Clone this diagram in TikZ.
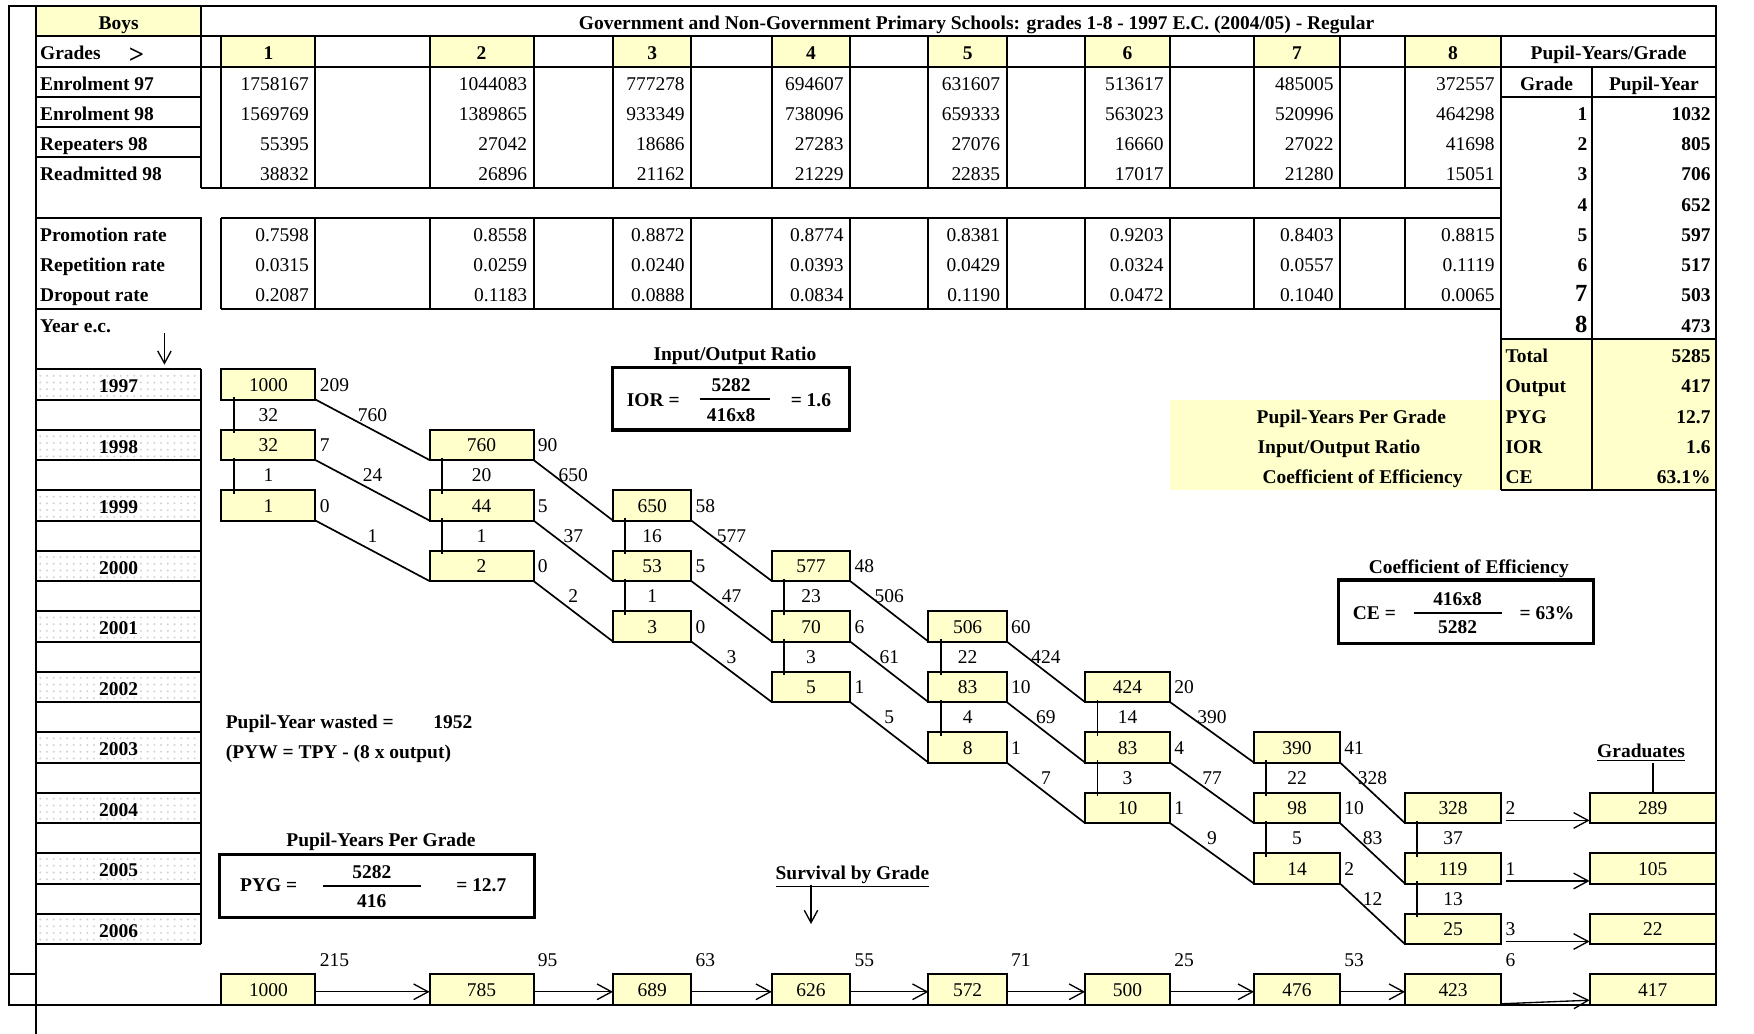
\documentclass[tikz,border=0pt]{standalone}
\usepackage{fontspec}
\setmainfont{Liberation Serif}
\usetikzlibrary{calc,patterns,arrows.meta}

\definecolor{cellyellow}{RGB}{255,255,204}

% edges of the grade columns (9 = graduates)
\def\colL{{198,384,548,690,830,970,1121,1256,1421}}
\def\colR{{282,477,618,760,900,1046,1198,1342,1534}}
\newcommand{\rowt}[1]{{5.5+27.05*(#1)}}
\newcommand{\rowc}[1]{{20.5+27.05*(#1)}}

\newcommand{\plainBox}[4]{%
  \pgfmathtruncatemacro\bxi{#2-1}%
  \pgfmathsetmacro\bxl{\colL[\bxi]}%
  \pgfmathsetmacro\bxr{\colR[\bxi]}%
  \pgfmathsetmacro\bxw{(\bxr-\bxl)*0.5}%
  \node[flowbox, minimum width=\bxw pt, anchor=north west] (#1) at (\bxl,\rowt{#3}) {#4};%
}
\newcommand{\flowBox}[5]{%
  \plainBox{#1}{#2}{#3}{#4}%
  \node[sidelab] (#1-d) at ([xshift=1.5pt]#1.east) {#5};%
}
\newcommand{\survBox}[4]{%
  \plainBox{#1}{#2}{32}{#3}%
  \node[sidelab] (#1-l) at ([xshift=1.5pt,yshift=13.5pt]#1.east) {#4};%
}
\newcommand{\repLink}[3]{%
  \draw[flowline] ([xshift=5.5pt,yshift=1pt]#1.south west) -- ([xshift=5.5pt,yshift=-1.5pt]#2.north west);%
  \node[linklab] (#1-r) at ($(#1.south)!0.5!(#2.north)$) {#3};%
}
\newcommand{\promLink}[3]{%
  \draw[flowline] (#1.south east) -- (#2.south west);%
  \node[linklab] (#1-p) at ($(#1.south east)!0.5!(#2.north west)$) {#3};%
}
\newcommand{\dataRow}[3]{%
  \foreach \v [count=\g from 0] in {#3} {%
    \pgfmathsetmacro\xr{\colR[\g]}%
    \node[num] (#1\g) at (\xr-5,\rowc{#2}) {\v};%
  }%
}

\begin{document}
\fontsize{8.7}{10.4}\selectfont
\begin{tikzpicture}[x=0.5pt, y=-0.5pt, line width=0.9pt,
  txt/.style={inner sep=0pt, text height=6pt, text depth=0pt},
  hdr/.style={txt, font=\bfseries},
  lab/.style={hdr, anchor=west},
  num/.style={txt, anchor=east},
  bnum/.style={num, font=\bfseries},
  flowbox/.style={draw, fill=cellyellow, line width=0.9pt, inner sep=0pt,
    outer sep=0pt, minimum height=13.525pt, text height=6pt, text depth=0pt},
  sidelab/.style={txt, anchor=west},
  linklab/.style={txt},
  flowline/.style={line width=0.75pt},
  flowarrow/.style={line width=0.6pt, -{Straight Barb[length=6.5pt,width=7pt]}},
  downarrow/.style={line width=0.6pt, -{Straight Barb[length=5.5pt,width=6pt]}},
  ratiobox/.style={draw, line width=1.4pt, inner sep=0pt, outer sep=0pt},
  fracbar/.style={line width=0.8pt},
  yearcell/.style={pattern=dots, pattern color=gray!35}
]
  \useasboundingbox (0,0) rectangle (1568,924);

  % Fills
  \fill[cellyellow] (32,\rowt{0}) rectangle (180,\rowt{1});
  \fill[cellyellow] (1342,\rowt{11}) rectangle (1534,\rowt{16});
  \fill[cellyellow] (1046,\rowt{13}) rectangle (1342,\rowt{16});
  \foreach \g in {0,...,7} {
    \pgfmathsetmacro\xl{\colL[\g]}
    \pgfmathsetmacro\xr{\colR[\g]}
    \pgfmathtruncatemacro\gn{\g+1}
    \fill[cellyellow] (\xl,\rowt{1}) rectangle (\xr,\rowt{2});
    \node[hdr] (gh\gn) at ({(\xl+\xr)/2},\rowc{1}) {\gn};
  }
  \foreach \k in {0,...,9}
    \fill[yearcell] (32,\rowt{12+2*\k}) rectangle (180,\rowt{13+2*\k});

  % Frame
  \draw (8,\rowt{0}) -- (1534,\rowt{0}) -- (1534,\rowt{33}) -- (8,\rowt{33}) -- cycle;
  \draw (32,\rowt{0}) -- (32,924);
  \draw (8,\rowt{32}) -- (32,\rowt{32});

  % Top table lines
  \draw (180,\rowt{0}) -- (180,\rowt{6});
  \draw (32,\rowt{1}) -- (1534,\rowt{1});
  \draw (32,\rowt{2}) -- (1534,\rowt{2});
  \foreach \i in {3,4,5} \draw (32,\rowt{\i}) -- (180,\rowt{\i});
  \draw (180,\rowt{6}) -- (1342,\rowt{6});
  \draw (32,\rowt{7}) rectangle (180,\rowt{10});
  \draw (198,\rowt{7}) -- (1342,\rowt{7});
  \draw (198,\rowt{10}) -- (1342,\rowt{10});
  \foreach \x in {198,282,384,477,548,618,690,760,830,900,970,1046,1121,1198,1256} {
    \draw (\x,\rowt{1}) -- (\x,\rowt{6});
    \draw (\x,\rowt{7}) -- (\x,\rowt{10});
  }
  \draw (1342,\rowt{1}) -- (1342,\rowt{16});
  \draw (1423,\rowt{2}) -- (1423,\rowt{16});
  \foreach \i in {3,11,16} \draw (1342,\rowt{\i}) -- (1534,\rowt{\i});

  % Year column lines
  \foreach \i in {12,...,31} \draw (32,\rowt{\i}) -- (180,\rowt{\i});
  \draw (180,\rowt{12}) -- (180,\rowt{31});

  % Headers and row labels
  \node[hdr] (boys) at (106,\rowc{0}) {Boys};
  \node[hdr] (title) at (873,\rowc{0}) {Government and Non-Government Primary Schools: grades 1-8 - 1997 E.C. (2004/05) - Regular};
  \node[lab] (grades) at (35,\rowc{1}) {Grades};
  \node[hdr, font=\bfseries\fontsize{12}{12}\selectfont] (gradesdir) at (122,51) {>};
  \node[hdr] (pyghead) at (1438,\rowc{1}) {Pupil-Years/Grade};
  \node[hdr] (gradehead) at (1382.5,\rowc{2}) {Grade};
  \node[hdr] (pyhead) at (1478.5,\rowc{2}) {Pupil-Year};
  \node[lab] (enr97) at (35,\rowc{2}) {Enrolment 97};
  \node[lab] (enr98) at (35,\rowc{3}) {Enrolment 98};
  \node[lab] (rep98) at (35,\rowc{4}) {Repeaters 98};
  \node[lab] (rea98) at (35,\rowc{5}) {Readmitted 98};
  \node[lab] (promrate) at (35,\rowc{7}) {Promotion rate};
  \node[lab] (reprate) at (35,\rowc{8}) {Repetition rate};
  \node[lab] (droprate) at (35,\rowc{9}) {Dropout rate};
  \node[lab] (yearlab) at (35,\rowc{10}) {Year e.c.};

  % Data rows
  \dataRow{e97-}{2}{1758167,1044083,777278,694607,631607,513617,485005,372557}
  \dataRow{e98-}{3}{1569769,1389865,933349,738096,659333,563023,520996,464298}
  \dataRow{r98-}{4}{55395,27042,18686,27283,27076,16660,27022,41698}
  \dataRow{a98-}{5}{38832,26896,21162,21229,22835,17017,21280,15051}
  \dataRow{pr-}{7}{0.7598,0.8558,0.8872,0.8774,0.8381,0.9203,0.8403,0.8815}
  \dataRow{rr-}{8}{0.0315,0.0259,0.0240,0.0393,0.0429,0.0324,0.0557,0.1119}
  \dataRow{dr-}{9}{0.2087,0.1183,0.0888,0.0834,0.1190,0.0472,0.1040,0.0065}

  % Pupil-years per grade
  \foreach \v [count=\g] in {1032,805,706,652,597,517,503,473} {
    \ifnum\g>6 \def\gf{\fontsize{11}{12}\selectfont}\else\def\gf{}\fi
    \node[bnum] (pyg\g) at (1420,\rowc{\g+2}) {\gf\g};
    \node[bnum] (pyv\g) at (1530,\rowc{\g+2}) {\v};
  }
  \foreach \t/\v [count=\i from 11] in {Total/5285,Output/417,PYG/12.7,IOR/1.6,CE/63.1\%} {
    \node[lab] (sum\i) at (1345,\rowc{\i}) {\t};
    \node[bnum] (sumv\i) at (1530,\rowc{\i}) {\v};
  }
  \node[hdr] (pygname) at (1208,\rowc{13}) {Pupil-Years Per Grade};
  \node[hdr] (iorname) at (1197,\rowc{14}) {Input/Output Ratio};
  \node[hdr] (cename) at (1218,\rowc{15}) {Coefficient of Efficiency};

  % Years
  \foreach \yr [count=\k from 0] in {1997,...,2006}
    \node[hdr] (yr\yr) at (106,\rowc{12+2*\k}) {\yr};
  \coordinate (yeartip) at (147,326);
  \draw[downarrow] (yearlab.south -| yeartip) -- (yeartip);

  % Flow of the cohort
  \flowBox{b1-97}{1}{12}{1000}{209}
  \flowBox{b1-98}{1}{14}{32}{7}
  \flowBox{b2-98}{2}{14}{760}{90}
  \flowBox{b1-99}{1}{16}{1}{0}
  \flowBox{b2-99}{2}{16}{44}{5}
  \flowBox{b3-99}{3}{16}{650}{58}
  \flowBox{b2-00}{2}{18}{2}{0}
  \flowBox{b3-00}{3}{18}{53}{5}
  \flowBox{b4-00}{4}{18}{577}{48}
  \flowBox{b3-01}{3}{20}{3}{0}
  \flowBox{b4-01}{4}{20}{70}{6}
  \flowBox{b5-01}{5}{20}{506}{60}
  \flowBox{b4-02}{4}{22}{5}{1}
  \flowBox{b5-02}{5}{22}{83}{10}
  \flowBox{b6-02}{6}{22}{424}{20}
  \flowBox{b5-03}{5}{24}{8}{1}
  \flowBox{b6-03}{6}{24}{83}{4}
  \flowBox{b7-03}{7}{24}{390}{41}
  \flowBox{b6-04}{6}{26}{10}{1}
  \flowBox{b7-04}{7}{26}{98}{10}
  \flowBox{b8-04}{8}{26}{328}{2}
  \flowBox{b7-05}{7}{28}{14}{2}
  \flowBox{b8-05}{8}{28}{119}{1}
  \flowBox{b8-06}{8}{30}{25}{3}
  \plainBox{gr-04}{9}{26}{289}
  \plainBox{gr-05}{9}{28}{105}
  \plainBox{gr-06}{9}{30}{22}

  % Repeaters
  \repLink{b1-97}{b1-98}{32}
  \repLink{b1-98}{b1-99}{1}
  \repLink{b2-98}{b2-99}{20}
  \repLink{b2-99}{b2-00}{1}
  \repLink{b3-99}{b3-00}{16}
  \repLink{b3-00}{b3-01}{1}
  \repLink{b4-00}{b4-01}{23}
  \repLink{b4-01}{b4-02}{3}
  \repLink{b5-01}{b5-02}{22}
  \repLink{b5-02}{b5-03}{4}
  \repLink{b6-02}{b6-03}{14}
  \repLink{b6-03}{b6-04}{3}
  \repLink{b7-03}{b7-04}{22}
  \repLink{b7-04}{b7-05}{5}
  \repLink{b8-04}{b8-05}{37}
  \repLink{b8-05}{b8-06}{13}

  % Promotees
  \promLink{b1-97}{b2-98}{760}
  \promLink{b1-98}{b2-99}{24}
  \promLink{b1-99}{b2-00}{1}
  \promLink{b2-98}{b3-99}{650}
  \promLink{b2-99}{b3-00}{37}
  \promLink{b2-00}{b3-01}{2}
  \promLink{b3-99}{b4-00}{577}
  \promLink{b3-00}{b4-01}{47}
  \promLink{b3-01}{b4-02}{3}
  \promLink{b4-00}{b5-01}{506}
  \promLink{b4-01}{b5-02}{61}
  \promLink{b4-02}{b5-03}{5}
  \promLink{b5-01}{b6-02}{424}
  \promLink{b5-02}{b6-03}{69}
  \promLink{b5-03}{b6-04}{7}
  \promLink{b6-02}{b7-03}{390}
  \promLink{b6-03}{b7-04}{77}
  \promLink{b6-04}{b7-05}{9}
  \promLink{b7-03}{b8-04}{328}
  \promLink{b7-04}{b8-05}{83}
  \promLink{b7-05}{b8-06}{12}

  % Graduates
  \foreach \yy in {04,05,06}
    \draw[flowarrow] ([xshift=2pt,yshift=1.2pt]b8-\yy.south east) -- ([yshift=1.2pt]gr-\yy.south west);
  \node[hdr] (gradlab) at (1467,671) {\underline{Graduates}};
  \draw[flowline] ([yshift=-2pt]gradlab.south -| gr-04.north) -- (gr-04.north);

  % Survival by grade
  \survBox{s1}{1}{1000}{215}
  \survBox{s2}{2}{785}{95}
  \survBox{s3}{3}{689}{63}
  \survBox{s4}{4}{626}{55}
  \survBox{s5}{5}{572}{71}
  \survBox{s6}{6}{500}{25}
  \survBox{s7}{7}{476}{53}
  \survBox{s8}{8}{423}{6}
  \plainBox{s9}{9}{32}{417}
  \foreach \a/\b in {s1/s2,s2/s3,s3/s4,s4/s5,s5/s6,s6/s7,s7/s8}
    \draw[flowarrow] ([yshift=-1pt]\a.east) -- ([yshift=-1pt]\b.west);
  \draw[flowarrow] ([yshift=0.4pt]s8.south east) -- ([yshift=2pt]s9.south west);
  \node[hdr] (survlab) at (762,780) {\underline{Survival by Grade}};
  \coordinate (survtip) at (725,826);
  \draw[downarrow] ([yshift=-2pt]survlab.south -| survtip) -- (survtip);

  % Input/Output Ratio
  \node[hdr] (iortitle) at (657,316) {Input/Output Ratio};
  \node[ratiobox, minimum width=106pt, minimum height=27.85pt] (iorbox) at (653.6,356.5) {};
  \node[lab] (iorlhs) at (559.5,357.6) {IOR =};
  \node[hdr] (iornum) at (653.6,344.2) {5282};
  \draw[fracbar] (625.5,357) -- (688.5,357);
  \node[hdr] (iorden) at (653.6,370.5) {416x8};
  \node[lab] (iorres) at (706,357.6) {= 1.6};

  % Coefficient of Efficiency
  \node[hdr] (cetitle) at (1313,506.6) {Coefficient of Efficiency};
  \node[ratiobox, minimum width=113.9pt, minimum height=28.25pt] (cebox) at (1310.7,546.75) {};
  \node[lab] (celhs) at (1208.5,547.7) {CE =};
  \node[hdr] (cenum) at (1303,535) {416x8};
  \draw[fracbar] (1263.8,547.7) -- (1342.5,547.7);
  \node[hdr] (ceden) at (1303,560.3) {5282};
  \node[lab] (ceres) at (1357.5,547.7) {= 63\%};

  % Pupil-years wasted
  \node[lab] (pywlab) at (201,645) {Pupil-Year wasted =};
  \node[lab] (pywval) at (386.5,645) {1952};
  \node[lab] (pywdef) at (201,672) {(PYW = TPY - (8 x output)};

  % Pupil-Years Per Grade
  \node[hdr] (pygtitle) at (340.6,751) {Pupil-Years Per Grade};
  \node[ratiobox, minimum width=140.7pt, minimum height=28.25pt] (pygbox) at (337.3,791.75) {};
  \node[lab] (pyglhs) at (213.8,791.2) {PYG =};
  \node[hdr] (pygnum) at (332.4,779.3) {5282};
  \draw[fracbar] (289,791.8) -- (376,791.8);
  \node[hdr] (pygden) at (332.4,805.2) {416};
  \node[lab] (pygres) at (407,791.2) {= 12.7};
\end{tikzpicture}
\end{document}
